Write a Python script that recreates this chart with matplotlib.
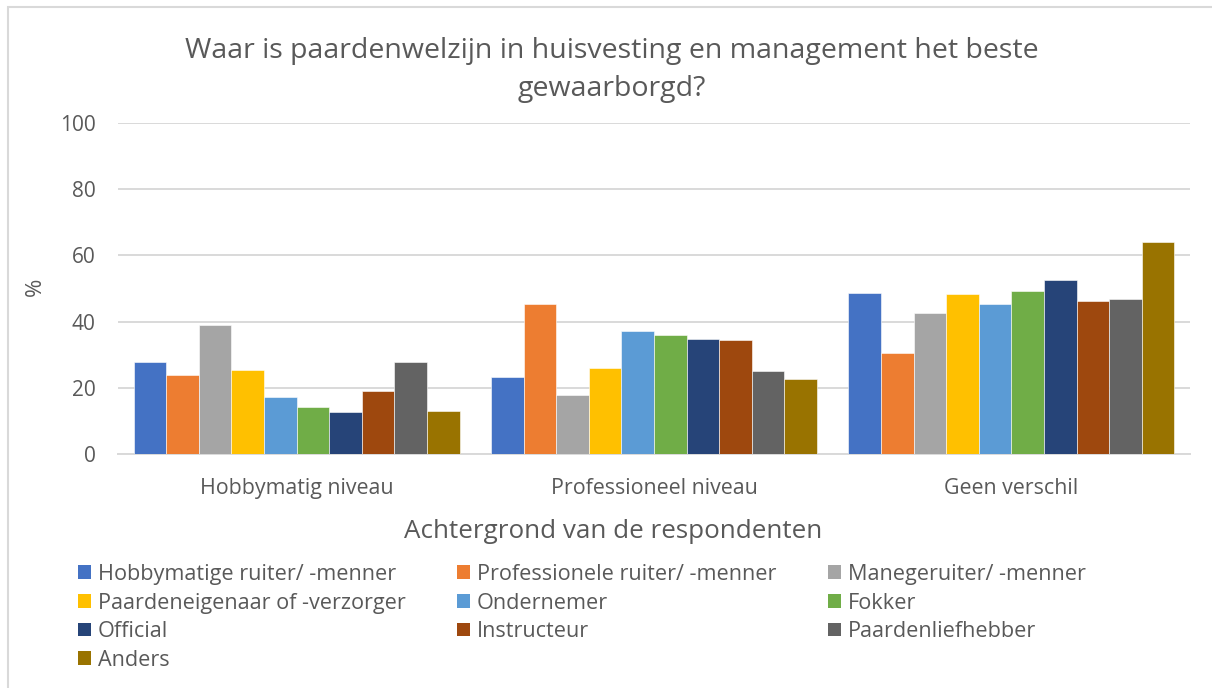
import matplotlib
matplotlib.use("Agg")
import matplotlib.pyplot as plt
from matplotlib.patches import Rectangle, Patch
import numpy as np

plt.rcParams['font.family'] = ['Open Sans', 'DejaVu Sans']

title = "Waar is paardenwelzijn in huisvesting en management het beste\ngewaarborgd?"
categories = ["Hobbymatig niveau", "Professioneel niveau", "Geen verschil"]
series_names = [
    "Hobbymatige ruiter/ -menner", "Professionele ruiter/ -menner", "Manegeruiter/ -menner",
    "Paardeneigenaar of -verzorger", "Ondernemer", "Fokker",
    "Official", "Instructeur", "Paardenliefhebber", "Anders",
]
hobbymatig = [27.7, 23.8, 39.1, 25.3, 17.1, 14.2, 12.7, 19.0, 27.7, 13.1]
professioneel = [23.4, 45.4, 17.8, 26.1, 37.1, 36.0, 34.8, 34.3, 25.0, 22.7]
geen_verschil = [48.6, 30.4, 42.7, 48.2, 45.4, 49.3, 52.6, 46.2, 46.9, 63.9]
colors = ["#4472C4", "#ED7D31", "#A5A5A5", "#FFC000", "#5B9BD5",
          "#70AD47", "#264478", "#9E480E", "#636363", "#997300"]
yticks = [0, 20, 40, 60, 80, 100]

TXT = "#595959"
W, H = 1212, 688
fig = plt.figure(figsize=(W / 100, H / 100), dpi=100)
ax = fig.add_axes([118 / W, 1 - 454 / H, (1190 - 118) / W, (454 - 123) / H])

# chart border
fig.patches.append(Rectangle((8 / W, -0.1), 1.2, 1 - 7 / H + 0.1, transform=fig.transFigure,
                             fill=False, edgecolor="#D9D9D9", linewidth=1.5))

data = np.array([hobbymatig, professioneel, geen_verschil])  # (cat, series)
n = len(series_names)
bw = 0.0912
x = np.arange(len(categories))
for i in range(n):
    ax.bar(x + (i - (n - 1) / 2) * bw, data[:, i], width=bw, color=colors[i],
           edgecolor="white", linewidth=0.4, zorder=3, label=series_names[i])

ax.set_xlim(-0.5, len(categories) - 0.5)
ax.set_ylim(0, 100)
ax.set_yticks(yticks)
ax.yaxis.grid(True, color="#D9D9D9", linewidth=1.4, zorder=0)
ax.set_axisbelow(True)
for s in ["top", "right", "left"]:
    ax.spines[s].set_visible(False)
ax.spines["bottom"].set_color("#D9D9D9")
ax.spines["bottom"].set_linewidth(1.4)
ax.set_xticks(x)
ax.set_xticklabels(categories)
ax.tick_params(axis="y", length=0, pad=16, labelsize=15, labelcolor=TXT)
ax.tick_params(axis="x", length=0, pad=17, labelsize=15.4, labelcolor=TXT)

fig.text(612 / W, 1 - 70 / H, title, ha="center", va="center", fontsize=20.5,
         color=TXT, linespacing=1.45)
fig.text(35 / W, 1 - 287 / H, "%", rotation=90, ha="center", va="center",
         fontsize=16, color=TXT)
fig.text(613 / W, 1 - 532 / H, "Achtergrond van de respondenten", ha="center",
         va="center", fontsize=18.7, color=TXT)

handles = [Patch(facecolor=c) for c in colors]
order = [0, 3, 6, 9, 1, 4, 7, 2, 5, 8]
leg = fig.legend([handles[i] for i in order], [series_names[i] for i in order],
                 ncol=3, loc="upper left", bbox_to_anchor=(78 / W, 1 - 564 / H),
                 frameon=False, fontsize=15.6, labelcolor=TXT,
                 handlelength=0.6, handleheight=0.6, handletextpad=0.3,
                 columnspacing=2.4, labelspacing=0.35, borderaxespad=0, borderpad=0)

fig.savefig("out.png", dpi=100)
